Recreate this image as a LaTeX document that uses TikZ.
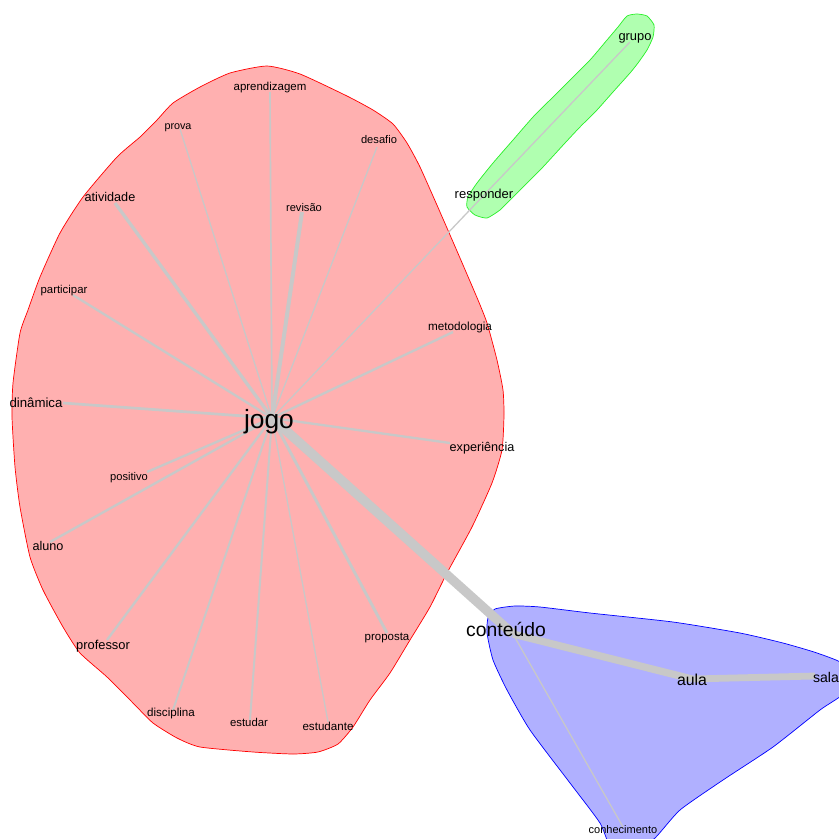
\documentclass[tikz,border=0pt]{standalone}
\usepackage{fontspec}
\setmainfont{Liberation Sans}
\definecolor{edgegray}{RGB}{200,200,200}
\definecolor{redfill}{RGB}{255,176,176}
\definecolor{greenfill}{RGB}{176,255,176}
\definecolor{bluefill}{RGB}{176,176,255}
\definecolor{greenline}{RGB}{40,240,40}
\tikzset{
  lbl/.style={anchor=base, inner sep=0pt, text=black},
  edge/.style={draw=edgegray, line cap=butt},
  hull/.style={line width=0.6pt},
}
\newcommand{\fs}[1]{\fontsize{#1}{#1}\selectfont}
\begin{document}
\begin{tikzpicture}[x=0.03cm, y=-0.03cm]
\useasboundingbox (0,0) rectangle (839,839);
\clip (0,0) rectangle (839,839);
% hulls
\draw[hull, draw=red, fill=redfill] plot[smooth cycle, tension=0.35] coordinates {
(267,66) (300,74) (347,96) (373,110) (393,124) (407,143) (420,167) (440,212) (460,258) (478,300) (487,323) (497,360) (503,390) (504,415) (502,450) (492,483) (472,527) (447,573) (430,607) (410,640) (390,673) (370,700) (353,727) (338,744) (318,752) (293,754) (253,752) (200,747) (177,738) (153,723) (133,703) (107,677) (80,653) (63,627) (43,590) (30,557) (20,507) (15,467) (12,417) (13,383) (20,333) (28,310) (40,277) (60,233) (83,197) (117,157) (140,137) (157,120) (173,103) (200,87) (230,73)};
\draw[hull, draw=greenline, fill=greenfill] plot[smooth cycle, tension=0.35] coordinates {
(627,16) (637,14) (647,16) (654,25) (653,37) (647,50) (638,63) (630,73) (613,92) (597,110) (580,127) (565,143) (543,167) (527,183) (510,200) (500,210) (487,218) (475,215) (467,207) (468,197) (477,183) (493,163) (513,140) (533,117) (550,100) (567,83) (590,60) (607,40) (618,27)};
\draw[hull, draw=blue, fill=bluefill] plot[smooth cycle, tension=0.35] coordinates {
(495,609) (515,606) (540,607) (590,613) (673,622) (740,633) (783,643) (817,653) (845,665) (848,690) (820,710) (773,747) (723,780) (680,810) (655,838) (635,850) (612,850) (600,823) (570,783) (530,730) (507,690) (493,660) (487,633) (488,618)};
% vertices
\coordinate (jogo) at (272,418);
\coordinate (aprendizagem) at (270,92);
\coordinate (prova) at (180,129);
\coordinate (desafio) at (377,147);
\coordinate (revisao) at (302,212);
\coordinate (atividade) at (115,203);
\coordinate (participar) at (73,295);
\coordinate (metodologia) at (453,332);
\coordinate (dinamica) at (63,403);
\coordinate (experiencia) at (450,443);
\coordinate (positivo) at (147,472);
\coordinate (aluno) at (50,542);
\coordinate (professor) at (107,640);
\coordinate (disciplina) at (173,710);
\coordinate (estudar) at (250,720);
\coordinate (estudante) at (328,722);
\coordinate (proposta) at (387,633);
\coordinate (responder) at (485,194);
\coordinate (grupo) at (630,42);
\coordinate (conteudo) at (513,634);
\coordinate (aula) at (692,679);
\coordinate (sala) at (815,676);
\coordinate (conhecimento) at (623,827);
% edges
\draw[edge, line width=1.4pt] (jogo) -- (aprendizagem);
\draw[edge, line width=1.1pt] (jogo) -- (prova);
\draw[edge, line width=1.1pt] (jogo) -- (desafio);
\draw[edge, line width=3.4pt] (jogo) -- (revisao);
\draw[edge, line width=2.8pt] (jogo) -- (atividade);
\draw[edge, line width=2pt] (jogo) -- (participar);
\draw[edge, line width=2pt] (jogo) -- (metodologia);
\draw[edge, line width=2.3pt] (jogo) -- (dinamica);
\draw[edge, line width=2pt] (jogo) -- (experiencia);
\draw[edge, line width=2pt] (jogo) -- (positivo);
\draw[edge, line width=2pt] (jogo) -- (aluno);
\draw[edge, line width=2pt] (jogo) -- (professor);
\draw[edge, line width=1.7pt] (jogo) -- (disciplina);
\draw[edge, line width=1.7pt] (jogo) -- (estudar);
\draw[edge, line width=1.1pt] (jogo) -- (estudante);
\draw[edge, line width=2.5pt] (jogo) -- (proposta);
\draw[edge, line width=1.1pt] (jogo) -- (responder);
\draw[edge, line width=1.1pt] (responder) -- (grupo);
\draw[edge, line width=8pt] (jogo) -- (conteudo);
\draw[edge, line width=6.2pt] (conteudo) -- (aula);
\draw[edge, line width=5.8pt] (aula) -- (sala);
\draw[edge, line width=1.1pt] (conteudo) -- (conhecimento);
% labels
\node[lbl, font=\fs{22.5}] (l-jogo) at (269,428) {jogo};
\node[lbl, font=\fs{9.8}] (l-aprendizagem) at (270,90) {aprendizagem};
\node[lbl, font=\fs{9.2}] (l-prova) at (178,129) {prova};
\node[lbl, font=\fs{9.5}] (l-desafio) at (379,143) {desafio};
\node[lbl, font=\fs{9.5}] (l-revisao) at (304,211) {revisão};
\node[lbl, font=\fs{10.8}] (l-atividade) at (110,201) {atividade};
\node[lbl, font=\fs{9.7}] (l-participar) at (64,293) {participar};
\node[lbl, font=\fs{10}] (l-metodologia) at (460,330) {metodologia};
\node[lbl, font=\fs{11.3}] (l-dinamica) at (36,407) {dinâmica};
\node[lbl, font=\fs{10.8}] (l-experiencia) at (482,451) {experiência};
\node[lbl, font=\fs{9.5}] (l-positivo) at (129,480) {positivo};
\node[lbl, font=\fs{10.8}] (l-aluno) at (48,550) {aluno};
\node[lbl, font=\fs{11}] (l-professor) at (103,649) {professor};
\node[lbl, font=\fs{9.9}] (l-disciplina) at (171,716) {disciplina};
\node[lbl, font=\fs{9.7}] (l-estudar) at (249,726) {estudar};
\node[lbl, font=\fs{9.9}] (l-estudante) at (328,730) {estudante};
\node[lbl, font=\fs{9.8}] (l-proposta) at (387,640) {proposta};
\node[lbl, font=\fs{11.1}] (l-responder) at (484,198) {responder};
\node[lbl, font=\fs{11}] (l-grupo) at (635,40) {grupo};
\node[lbl, font=\fs{16.5}] (l-conteudo) at (506,636) {conteúdo};
\node[lbl, font=\fs{13.5}] (l-aula) at (692,685) {aula};
\node[lbl, font=\fs{12}] (l-sala) at (826,682) {sala};
\node[lbl, font=\fs{9.4}] (l-conhecimento) at (623,833) {conhecimento};
\end{tikzpicture}
\end{document}
